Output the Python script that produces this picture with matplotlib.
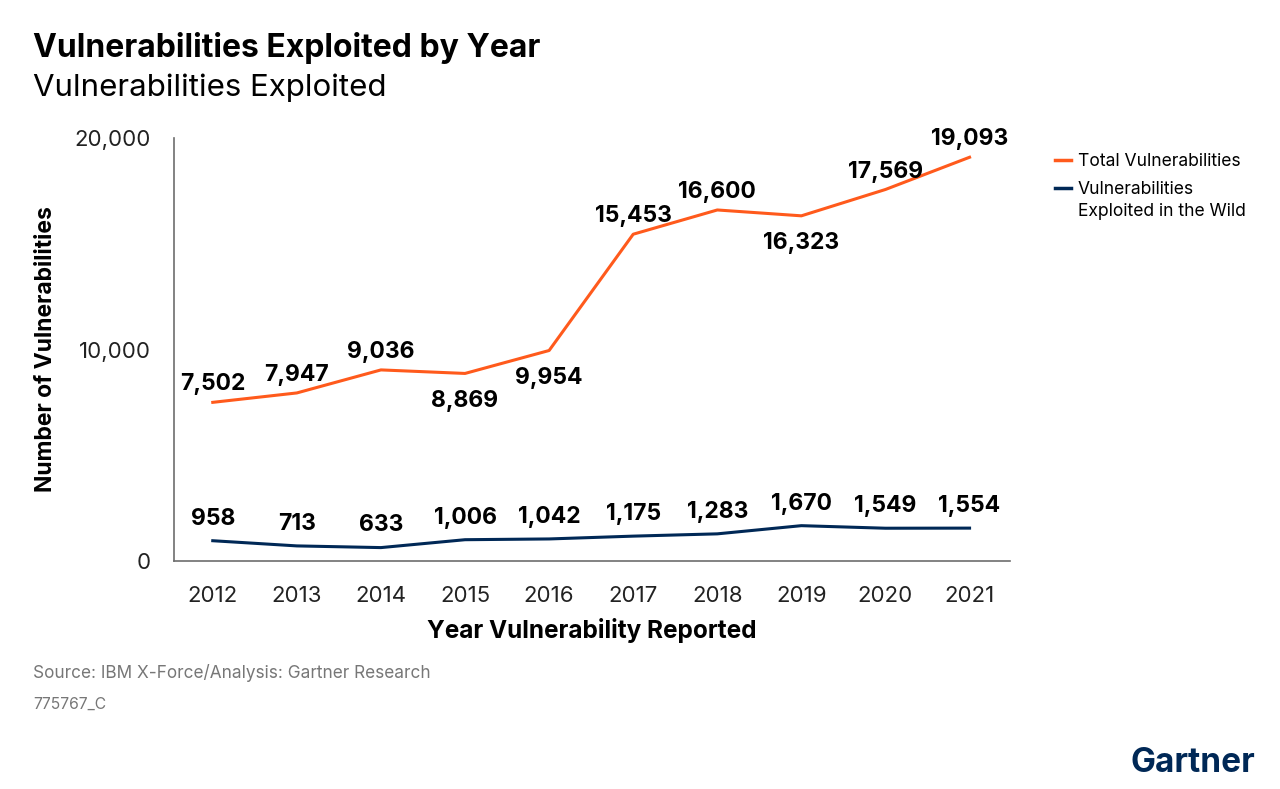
import matplotlib
matplotlib.use("Agg")
import matplotlib.pyplot as plt
from matplotlib.lines import Line2D

plt.rcParams['font.family'] = ['Inter', 'DejaVu Sans']

years = [2012, 2013, 2014, 2015, 2016, 2017, 2018, 2019, 2020, 2021]
total = [7502, 7947, 9036, 8869, 9954, 15453, 16600, 16323, 17569, 19093]
exploited = [958, 713, 633, 1006, 1042, 1175, 1283, 1670, 1549, 1554]
# label above (1) or below (-1) the point
total_pos = [1, 1, 1, -1, -1, 1, 1, -1, 1, 1]

orange = "#FF5A1C"
navy = "#002856"
grey = "#6d6d6d"

fig = plt.figure(figsize=(12.8, 7.89), dpi=100)
ax = fig.add_axes([0.136, 0.289, 0.653, 0.536])

ax.plot(years, total, color=orange, lw=2.2)
ax.plot(years, exploited, color=navy, lw=2.2)

for x, y, p in zip(years, total, total_pos):
    off = 5 if p > 0 else -12
    ax.annotate(f"{y:,}", (x, y), xytext=(0, off), textcoords="offset points",
                ha="center", va="bottom" if p > 0 else "top",
                fontsize=16.5, fontweight="bold", color="black")
for x, y in zip(years, exploited):
    ax.annotate(f"{y:,}", (x, y), xytext=(0, 8), textcoords="offset points",
                ha="center", va="bottom", fontsize=16.5, fontweight="bold", color="black")

ax.set_xlim(2011.54, 2021.48)
ax.set_ylim(0, 20000)
ax.set_xticks(years)
ax.set_yticks([0, 10000, 20000])
ax.set_yticklabels(["0", "10,000", "20,000"])
ax.tick_params(axis="both", length=0, labelsize=16, colors="#222222")
ax.tick_params(axis="x", pad=18)
ax.tick_params(axis="y", pad=17)
for s in ["top", "right"]:
    ax.spines[s].set_visible(False)
for s in ["left", "bottom"]:
    ax.spines[s].set_color(grey)
    ax.spines[s].set_linewidth(1.2)

ax.set_xlabel("Year Vulnerability Reported", fontsize=17.5, fontweight="bold", labelpad=9)
ax.set_ylabel("Number of Vulnerabilities", fontsize=16.5, fontweight="bold", labelpad=12)

fig.text(33/1280, 1 - 48/789, "Vulnerabilities Exploited by Year", fontsize=23,
         fontweight="bold", va="center", ha="left")
fig.text(33/1280, 1 - 88/789, "Vulnerabilities Exploited", fontsize=22.5,
         va="center", ha="left")

# legend, drawn by hand
fig.add_artist(Line2D([1055/1280, 1071/1280], [1 - 160/789] * 2, color=orange, lw=2.5))
fig.add_artist(Line2D([1055/1280, 1071/1280], [1 - 188/789] * 2, color=navy, lw=2.5))
fig.text(1078/1280, 1 - 161/789, "Total Vulnerabilities", fontsize=12.6, va="center")
fig.text(1078/1280, 1 - 189/789, "Vulnerabilities", fontsize=12.6, va="center")
fig.text(1078/1280, 1 - 211/789, "Exploited in the Wild", fontsize=12.6, va="center")

fig.text(33/1280, 1 - 673/789, "Source: IBM X-Force/Analysis: Gartner Research",
         fontsize=12.4, color="#777777", va="center")
fig.text(33/1280, 1 - 704/789, "775767_C", fontsize=11.3, color="#777777", va="center")
fig.text(1255/1280, 1 - 763/789, "Gartner", fontsize=24, fontweight="bold",
         color=navy, ha="right", va="center")

fig.savefig("out.png", dpi=100)
